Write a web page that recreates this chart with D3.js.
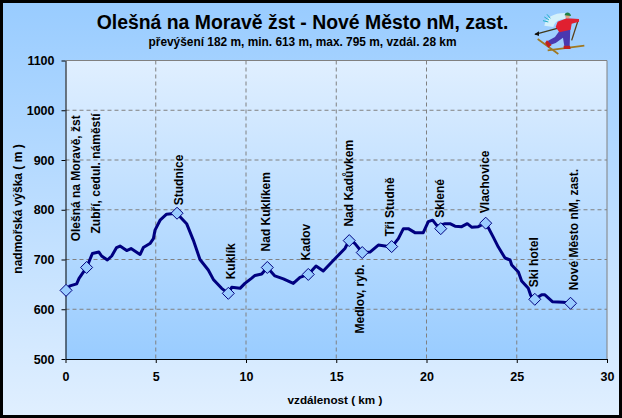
<!DOCTYPE html>
<html>
<head>
<meta charset="utf-8">
<script src="https://cdnjs.cloudflare.com/ajax/libs/d3/7.8.5/d3.min.js"></script>
<style>
html, body { margin: 0; padding: 0; background: #000; overflow: hidden; }
svg { display: block; font-family: "Liberation Sans", Arial, sans-serif; font-weight: bold; fill: #000; }
</style>
</head>
<body>
<svg id="svg" width="622" height="418"></svg>
<script>
var titleText = "Olešná na Moravě žst - Nové Město nM, zast.";
var subtitleText = "převýšení 182 m, min. 613 m, max. 795 m, vzdál. 28 km";
var xTitle = "vzdálenost ( km )";
var yTitle = "nadmořská výška ( m )";

// profile
var profileKm = [0.03,0.25,0.62,0.75,1.17,1.49,1.85,2.0,2.32,2.56,2.83,3.02,3.39,3.63,4.13,4.31,4.68,4.87,4.96,5.24,5.6,6.16,6.71,7.08,7.27,7.45,7.91,8.19,8.65,9.02,9.21,9.67,9.94,10.3,10.5,10.87,11.18,11.6,12.07,12.62,12.99,13.45,13.88,14.28,15.02,15.48,15.72,16.04,16.44,16.87,17.33,17.7,18.07,18.44,18.72,18.99,19.36,19.82,20.1,20.34,20.6,21.03,21.3,21.58,21.95,22.26,22.5,22.87,23.28,23.7,23.98,24.35,24.63,24.72,25.09,25.27,25.64,25.77,26.01,26.38,26.56,26.99,27.58,27.95];
var profileM = [638,647,651,662,684,712,715,707,699,707,724,727,718,722,710,724,732,742,759,779,791,793,772,739,719,700,679,660,642,632,644,642,652,662,668,671,684,667,661,652,664,670,687,677,705,722,739,732,714,715,729,727,725,742,762,762,754,754,776,779,767,772,772,767,766,772,765,766,774,745,725,703,699,689,675,657,642,628,620,629,629,615,614,612];

// named places
var placeNames = ["Olešná na Moravě, žst","Zubří, cedul. náměstí","Studnice","Kuklík","Nad Kuklíkem","Kadov","Nad Kadůvkem","Medlov, ryb.","Tři Studně","Sklené","Vlachovice","Ski hotel","Nové Město nM, zast."];
var placeKm = [0.03,1.17,6.18,9.02,11.18,13.45,15.72,16.44,18.07,20.79,23.28,26.0,27.98];
var placeM = [638,684,793,632,684,670,738,714,726,762,773,620,612];

var xTicks = [0,5,10,15,20,25,30];
var yTicks = [500,600,700,800,900,1000,1100];

var svg = d3.select("#svg");
var left = 65.5, right = 607, top_ = 60.5, bottom = 359;

var x = d3.scaleLinear().domain([0, 30]).range([left, right]);
var y = d3.scaleLinear().domain([500, 1100]).range([bottom, top_]);

//////// BACKGROUND //////////
var defs = svg.append("defs");
function grad(id, c1, c2) {
    var g = defs.append("linearGradient").attr("id", id).attr("x1", 0).attr("y1", 0).attr("x2", 0).attr("y2", 1);
    g.append("stop").attr("offset", "0%").attr("stop-color", c1);
    g.append("stop").attr("offset", "100%").attr("stop-color", c2);
}
grad("outer", "#99ccff", "#e0efff");
grad("inner", "#e0efff", "#99ccff");

svg.append("rect").attr("x", 3).attr("y", 3).attr("width", 616).attr("height", 412).attr("fill", "url(#outer)");
svg.append("rect").attr("x", left).attr("y", top_).attr("width", right - left).attr("height", bottom - top_).attr("fill", "url(#inner)");

//////// GRID //////////
svg.append("g").selectAll("line").data(xTicks.slice(1, -1)).enter().append("line")
    .attr("x1", x).attr("x2", x).attr("y1", top_).attr("y2", bottom)
    .attr("stroke", "#808080").attr("stroke-dasharray", "4,3");
svg.append("g").selectAll("line").data(yTicks.slice(1, -1)).enter().append("line")
    .attr("x1", left).attr("x2", right).attr("y1", y).attr("y2", y)
    .attr("stroke", "#808080").attr("stroke-dasharray", "4,3");

// grey frame top and right
svg.append("path").attr("d", "M" + left + "," + top_ + "H" + right + "V" + bottom)
    .attr("fill", "none").attr("stroke", "#808080");

//////// AXES //////////
var xAxis = svg.append("g").attr("transform", "translate(0," + bottom + ")")
    .call(d3.axisBottom(x).tickValues(xTicks).tickFormat(d3.format("d")).tickSize(4).tickPadding(9).tickSizeOuter(0));
var yAxis = svg.append("g").attr("transform", "translate(" + left + ",0)")
    .call(d3.axisLeft(y).tickValues(yTicks).tickFormat(d3.format("d")).tickSize(4).tickPadding(7).tickSizeOuter(0));
[xAxis, yAxis].forEach(function(a) {
    a.selectAll("text").attr("font-family", "Liberation Sans").attr("font-weight", "bold").attr("font-size", 12.5).attr("fill", "#000");
    a.selectAll("line").attr("stroke", "#000");
    a.select(".domain").attr("stroke", "#000");
});

//////// LINE //////////
var line = d3.line().x(function(d) { return x(d[0]); }).y(function(d) { return y(d[1]); });
svg.append("path").datum(d3.zip(profileKm, profileM))
    .attr("d", line).attr("fill", "none").attr("stroke", "#000080")
    .attr("stroke-width", 3).attr("stroke-linejoin", "round");

//////// MARKERS //////////
var places = placeNames.map(function(n, i) { return {name: n, km: placeKm[i], m: placeM[i]}; });
svg.append("g").selectAll("path").data(places).enter().append("path")
    .attr("d", "M0,-6L6,0L0,6L-6,0Z")
    .attr("transform", function(d) { return "translate(" + x(d.km) + "," + y(d.m) + ")"; })
    .attr("fill", "#99ccff").attr("stroke", "#000080").attr("stroke-width", 1);

//////// TEXT //////////
// where each label sits relative to its marker (dx, dy of the text start)
var labelNudge = [[10,-49],[9,-34],[2,-8],[2.5,-14],[-1.5,-16],[-2.5,-14],[0,-14],[-2,81],[-1.5,-10],[-0.5,-11],[-1,-10],[-1,-12],[3.3,-13]];
svg.append("g").selectAll("text").data(places).enter().append("text")
    .attr("transform", function(d, i) {
        return "translate(" + (x(d.km) + labelNudge[i][0]) + "," + (y(d.m) + labelNudge[i][1]) + ")rotate(-90)";
    })
    .attr("dy", "0.35em").attr("font-size", 12).text(function(d) { return d.name; });

svg.append("text").attr("x", 302.5).attr("y", 29).attr("text-anchor", "middle").attr("font-size", 19.4).text(titleText);
svg.append("text").attr("x", 302.5).attr("y", 45.5).attr("text-anchor", "middle").attr("font-size", 11.9).text(subtitleText);
svg.append("text").attr("x", 335).attr("y", 404).attr("text-anchor", "middle").attr("font-size", 11.7).text(xTitle);
svg.append("text").attr("transform", "translate(22,209)rotate(-90)").attr("text-anchor", "middle").attr("font-size", 12).text(yTitle);

//////// SKIER //////////
var sk = svg.append("g").attr("transform", "translate(525,5)scale(0.3333)");
sk.append("path").attr("d", "M58,62C62,38 85,24 120,24L122,42C100,42 90,50 85,66Z").attr("fill", "#d4f0fa");
sk.append("path").attr("d", "M58,36L72,45M54,47L70,51M66,28L76,40").attr("stroke", "#20b0c8").attr("stroke-width", 3).attr("fill", "none");
sk.append("path").attr("d", "M30,88L105,68").attr("stroke", "#403818").attr("stroke-width", 4);
sk.append("path").attr("d", "M28,88L42,79L42,93Z").attr("fill", "#101010");
sk.append("path").attr("d", "M160,44L140,106").attr("stroke", "#5a4018").attr("stroke-width", 4);
sk.append("path").attr("d", "M38,102L100,147M68,136L178,122").attr("stroke", "#a07820").attr("stroke-width", 5).attr("fill", "none");
sk.append("path").attr("d", "M103,78L136,70L134,124L118,124L114,98L92,114L75,120L68,108L90,96Z").attr("fill", "#4a38b0");
sk.append("path").attr("d", "M98,50L125,40L162,42L162,50L140,56L137,74L103,82L92,66Z").attr("fill", "#e02030");
sk.append("circle").attr("cx", 128).attr("cy", 33).attr("r", 7).attr("fill", "#e0a080");
sk.append("path").attr("d", "M119,31C119,19 137,19 138,33Z").attr("fill", "#208040");
sk.append("path").attr("d", "M66,106L80,120L70,128L60,114Z M116,122L135,122L137,132L116,132Z").attr("fill", "#c02020");
</script>
</body>
</html>
